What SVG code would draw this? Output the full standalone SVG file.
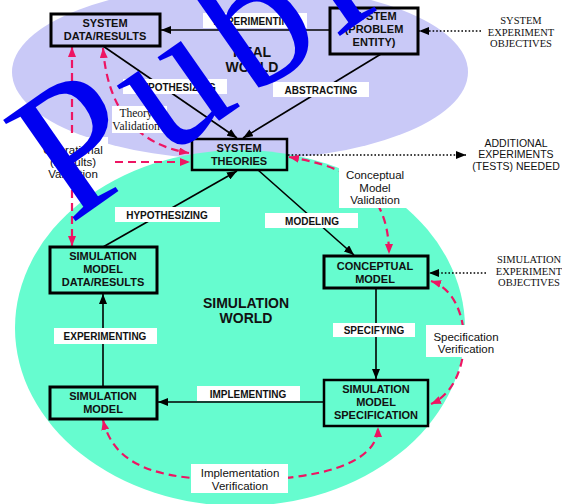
<svg xmlns="http://www.w3.org/2000/svg" width="562" height="504" viewBox="0 0 562 504">
<style>
.box{fill:none;stroke:#000;stroke-width:3}
.bt{font-family:"Liberation Sans",Arial,sans-serif;font-weight:bold;font-size:11px;fill:#111;text-anchor:middle}
.lbl{fill:#fff}
.lt{font-family:"Liberation Sans",Arial,sans-serif;font-weight:bold;font-size:10px;fill:#111;text-anchor:middle}
.note{font-family:"Liberation Sans",Arial,sans-serif;font-size:11.5px;fill:#111;text-anchor:middle}
.sm{font-family:"Liberation Sans",Arial,sans-serif;font-size:10.5px;fill:#111;text-anchor:middle}
.serif{font-family:"Liberation Serif","Times New Roman",serif;font-size:10.5px;fill:#111;text-anchor:middle}
.world{font-family:"Liberation Sans",Arial,sans-serif;font-weight:bold;font-size:14px;fill:#111;text-anchor:middle}
.solid{fill:none;stroke:#000;stroke-width:1.6}
.dash{fill:none;stroke:#EE1563;stroke-width:2.2;stroke-dasharray:8 5}
.dot{fill:none;stroke:#000;stroke-width:1.6;stroke-dasharray:1.6 2}
</style>
<defs>
<marker id="ah" viewBox="0 0 10 8" refX="10" refY="4" markerWidth="10" markerHeight="8" orient="auto-start-reverse" markerUnits="userSpaceOnUse"><path d="M0,0 L10,4 L0,8 z" fill="#000"/></marker>
<marker id="rh" viewBox="0 0 10 8" refX="10" refY="4" markerWidth="10" markerHeight="8" orient="auto-start-reverse" markerUnits="userSpaceOnUse"><path d="M0,0 L10,4 L0,8 z" fill="#EE1563"/></marker>
</defs>
<rect width="562" height="504" fill="#fff"/>
<ellipse cx="240" cy="72" rx="228" ry="88" fill="#C9C9F7"/>
<ellipse cx="240" cy="328" rx="225" ry="178" fill="#66FCCF"/>

<g id="connectors">
<path class="solid" d="M329,30 L161,30" marker-end="url(#ah)"/>
<path class="solid" d="M103,46 L237,138" marker-end="url(#ah)"/>
<path class="solid" d="M381,54 L243,138" marker-end="url(#ah)"/>
<path class="solid" d="M103,247 L237,171" marker-end="url(#ah)"/>
<path class="solid" d="M258,170 L354,255" marker-end="url(#ah)"/>
<path class="solid" d="M376,288 L376,379" marker-end="url(#ah)"/>
<path class="solid" d="M324,402 L158,402" marker-end="url(#ah)"/>
<path class="solid" d="M103,387 L103,294" marker-end="url(#ah)"/>
<path class="dot" d="M481,31 L419,31" marker-end="url(#ah)"/>
<path class="dot" d="M288,155 L466,155" marker-end="url(#ah)"/>
<path class="dot" d="M486,273 L429,273" marker-end="url(#ah)"/>
<path class="dash" d="M72,47 L72,246" marker-start="url(#rh)" marker-end="url(#rh)"/>
<path class="dash" d="M103,48 Q110,140 189,153" marker-start="url(#rh)" marker-end="url(#rh)"/>
<path class="dash" d="M115,162 L190,162" marker-end="url(#rh)"/>
<path class="dash" d="M289,157 C335,165 389,180 389,254" marker-start="url(#rh)" marker-end="url(#rh)"/>
<path class="dash" d="M431,281 C475,295 475,385 431,404" marker-start="url(#rh)" marker-end="url(#rh)"/>
<path class="dash" d="M103,420 C115,470 165,480 240,480 C315,480 378,465 378,427" marker-start="url(#rh)" marker-end="url(#rh)"/>
</g>

<g id="labels">
<rect class="lbl" x="203" y="13" width="104" height="15"/><text class="lt" x="255" y="24.5">EXPERIMENTING</text>
<rect class="lbl" x="123" y="79" width="104" height="15"/><text class="lt" x="175" y="90.5">HYPOTHESIZING</text>
<rect class="lbl" x="273" y="82" width="96" height="15"/><text class="lt" x="321" y="93.5">ABSTRACTING</text>
<rect class="lbl" x="115" y="207" width="105" height="15"/><text class="lt" x="167" y="218.5">HYPOTHESIZING</text>
<rect class="lbl" x="265" y="213" width="93" height="15"/><text class="lt" x="312" y="224.5">MODELING</text>
<rect class="lbl" x="54" y="328" width="103" height="16"/><text class="lt" x="105" y="340">EXPERIMENTING</text>
<rect class="lbl" x="333" y="323" width="82" height="14"/><text class="lt" x="374" y="334">SPECIFYING</text>
<rect class="lbl" x="197" y="386" width="103" height="15"/><text class="lt" x="248" y="397.5">IMPLEMENTING</text>
</g>

<g id="notes">
<rect class="lbl" x="112" y="106" width="55" height="27"/>
<text class="serif" style="font-size:11.5px" x="136" y="117">Theory</text>
<text class="serif" style="font-size:11.5px" x="136" y="130">Validation</text>
<rect class="lbl" x="40" y="137" width="68" height="47"/>
<text class="note" x="73" y="154">Operational</text>
<text class="note" x="73" y="166">(Results)</text>
<text class="note" x="73" y="178">Validation</text>
<rect class="lbl" x="339" y="163" width="70" height="45"/>
<text class="note" x="375" y="179">Conceptual</text>
<text class="note" x="375" y="192">Model</text>
<text class="note" x="375" y="204">Validation</text>
<rect class="lbl" x="426" y="325" width="75" height="32"/>
<text class="note" x="466" y="341">Specification</text>
<text class="note" x="466" y="353">Verification</text>
<rect class="lbl" x="191" y="464" width="97" height="29"/>
<text class="note" x="240" y="477">Implementation</text>
<text class="note" x="240" y="490">Verification</text>
<text class="serif" x="521" y="24">SYSTEM</text>
<text class="serif" x="521" y="36">EXPERIMENT</text>
<text class="serif" x="521" y="47">OBJECTIVES</text>
<text class="sm" x="516" y="147">ADDITIONAL</text>
<text class="sm" x="516" y="158">EXPERIMENTS</text>
<text class="sm" x="516" y="170">(TESTS) NEEDED</text>
<text class="serif" x="529" y="263">SIMULATION</text>
<text class="serif" x="529" y="275">EXPERIMENT</text>
<text class="serif" x="529" y="286">OBJECTIVES</text>
<text class="world" x="252" y="57">REAL</text>
<text class="world" x="252" y="72">WORLD</text>
<text class="world" x="246" y="308">SIMULATION</text>
<text class="world" x="246" y="323">WORLD</text>
</g>

<g id="system-data-results">
<rect class="box" x="51" y="14" width="109" height="32"/>
<text class="bt" x="105" y="27">SYSTEM</text>
<text class="bt" x="105" y="40">DATA/RESULTS</text>
</g>
<g id="system-problem-entity">
<rect class="box" x="330" y="8" width="88" height="46"/>
<text class="bt" x="374" y="20">SYSTEM</text>
<text class="bt" x="374" y="33">(PROBLEM</text>
<text class="bt" x="374" y="46">ENTITY)</text>
</g>
<g id="system-theories">
<rect class="box" style="stroke-width:2.5" x="192" y="139" width="95" height="31"/>
<text class="bt" x="239" y="152">SYSTEM</text>
<text class="bt" x="239" y="165">THEORIES</text>
</g>
<g id="conceptual-model">
<rect class="box" x="324" y="256" width="104" height="32"/>
<text class="bt" x="375" y="270">CONCEPTUAL</text>
<text class="bt" x="375" y="283">MODEL</text>
</g>
<g id="simulation-model-specification">
<rect class="box" style="stroke-width:2.5" x="324" y="380" width="104" height="46"/>
<text class="bt" x="376" y="393">SIMULATION</text>
<text class="bt" x="376" y="406">MODEL</text>
<text class="bt" x="376" y="419">SPECIFICATION</text>
</g>
<g id="simulation-model">
<rect class="box" x="50" y="387" width="107" height="32"/>
<text class="bt" x="103" y="400">SIMULATION</text>
<text class="bt" x="103" y="413">MODEL</text>
</g>
<g id="simulation-model-data-results">
<rect class="box" x="50" y="247" width="107" height="46"/>
<text class="bt" x="103" y="260">SIMULATION</text>
<text class="bt" x="103" y="273">MODEL</text>
<text class="bt" x="103" y="286">DATA/RESULTS</text>
</g>

<text transform="translate(70,225) rotate(-35)" font-family="Liberation Serif, Times New Roman, serif" font-size="190" letter-spacing="10" fill="#0000F0">Publ</text>
</svg>
